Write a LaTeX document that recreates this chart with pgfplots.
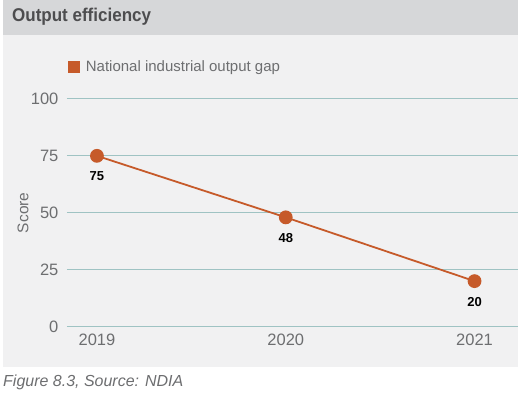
\documentclass[border=0pt]{standalone}
\usepackage{fontspec}
\setmainfont{Liberation Sans}
\usepackage{pgfplots}
\pgfplotsset{compat=1.18}
\definecolor{titlebar}{HTML}{D6D7D9}
\definecolor{panel}{HTML}{F1F1F2}
\definecolor{titletext}{HTML}{4D4D4F}
\definecolor{ticktext}{HTML}{6D6E70}
\definecolor{gridc}{HTML}{9FC3C3}
\definecolor{linec}{HTML}{C65A2A}
\begin{document}
\begin{tikzpicture}[x=1pt,y=1pt]
\fill[white] (0,0) rectangle (518,401);
\fill[panel] (3,34) rectangle (518,366);
\fill[titlebar] (3,366) rectangle (518,401);
\node[anchor=west, text=titletext, font=\fontsize{18.5}{20}\selectfont\bfseries, inner sep=0pt] at (12,384) {\scalebox{0.92}[1]{Output efficiency}};
\node[anchor=west, text=ticktext, font=\fontsize{16}{18}\selectfont\itshape, inner sep=0pt] at (3,18) {Figure 8.3, Source: NDIA};
\begin{axis}[
  at={(67pt,74pt)}, anchor=south west,
  scale only axis, width=451pt, height=228pt,
  xmin=2018.841, xmax=2021.2275, ymin=0, ymax=100,
  axis line style={draw=none},
  major tick length=0pt,
  xtick={2019,2020,2021}, xticklabels={2019,2020,2021},
  ytick={0,25,50,75,100},
  ymajorgrids, grid style={gridc, line width=1pt},
  tick label style={text=ticktext, font=\fontsize{16.5}{18}\selectfont},
  /pgf/number format/assume math mode=true,
  xticklabel style={yshift=-4pt},
  yticklabel style={xshift=-5pt},
  ylabel={Score},
  ylabel style={at={(axis description cs:-0.0975,0.5)}, anchor=center, text=ticktext, font=\fontsize{15.5}{17}\selectfont},
  clip=false,
  legend style={at={(axis description cs:0,1)}, anchor=west, yshift=32pt, xshift=-2pt, draw=none, fill=none, font=\fontsize{15}{17}\selectfont, text=ticktext, legend cell align=left, column sep=4pt},
  legend image code/.code={\fill[linec] (0pt,-5pt) rectangle (10pt,5pt);},
  nodes near coords,
  every node near coord/.append style={anchor=center, yshift=-20.5pt, text=black, font=\fontsize{13}{15}\selectfont\bfseries},
]
\addplot[linec, line width=1.8pt, mark=*, mark size=6pt, mark options={fill=linec, draw=linec}] coordinates {(2019,75) (2020,48) (2021,20)};
\addlegendentry{National industrial output gap}
\end{axis}
\end{tikzpicture}
\end{document}
